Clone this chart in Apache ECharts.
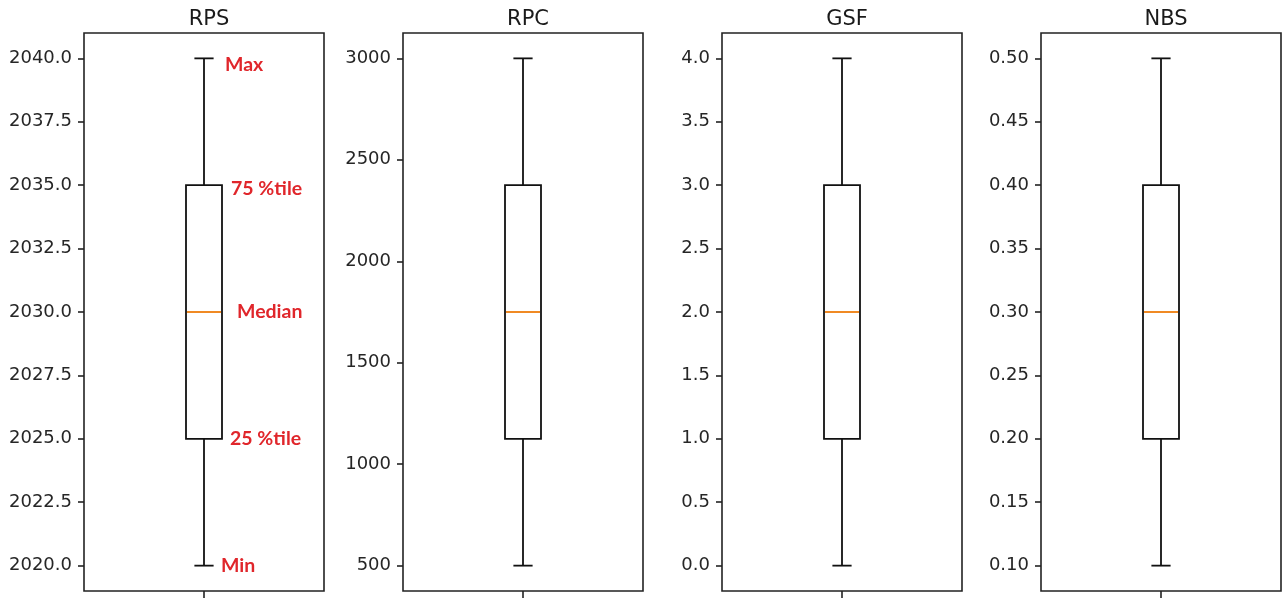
<!DOCTYPE html>
<html>
<head>
<meta charset="utf-8">
<script src="https://cdn.jsdelivr.net/npm/echarts@6/dist/echarts.min.js"></script>
<style>
html,body{margin:0;padding:0;background:#fff;}
#chart{width:1283px;height:598px;}
</style>
</head>
<body>
<div id="chart"></div>
<script>
// ---- data ----
const panelTitles = ['RPS', 'RPC', 'GSF', 'NBS'];
const minVals = [2020, 500, 0, 0.1];
const q1Vals = [2025, 1125, 1, 0.2];
const medianVals = [2030, 1750, 2, 0.3];
const q3Vals = [2035, 2375, 3, 0.4];
const maxVals = [2040, 3000, 4, 0.5];
const rpsTicks = [2020, 2022.5, 2025, 2027.5, 2030, 2032.5, 2035, 2037.5, 2040];
const rpcTicks = [500, 1000, 1500, 2000, 2500, 3000];
const gsfTicks = [0, 0.5, 1, 1.5, 2, 2.5, 3, 3.5, 4];
const nbsTicks = [0.1, 0.15, 0.2, 0.25, 0.3, 0.35, 0.4, 0.45, 0.5];
const tickDecimals = [1, 0, 1, 2];
const annotationLabels = ['Max', '75 %tile', 'Median', '25 %tile', 'Min'];

const tickSets = [rpsTicks, rpcTicks, gsfTicks, nbsTicks];
const gridLefts = [84, 403, 722, 1041];
const gridW = 240;
const gridTop = 33, gridH = 558;

const chart = echarts.init(document.getElementById('chart'), null, {renderer: 'canvas'});

const grids = [], xAxes = [], yAxes = [], series = [], titles = [];
panelTitles.forEach((t, i) => {
  const lo = minVals[i], hi = maxVals[i];
  const pad = (hi - lo) * 0.05;
  grids.push({left: gridLefts[i], top: gridTop, width: gridW, height: gridH,
    show: true, borderColor: '#222', borderWidth: 1.6, backgroundColor: 'transparent'});
  xAxes.push({type: 'category', gridIndex: i, data: ['1'], position: 'bottom',
    axisLine: {show: false, onZero: false}, axisLabel: {show: false},
    axisTick: {show: true, alignWithLabel: true, length: 7, lineStyle: {color: '#222', width: 1.6}},
    splitLine: {show: false}});
  const dec = tickDecimals[i];
  yAxes.push({type: 'value', gridIndex: i, min: lo - pad, max: hi + pad,
    axisLine: {show: false, onZero: false},
    axisTick: {show: true, length: 6, customValues: tickSets[i], lineStyle: {color: '#222', width: 1.6}},
    axisLabel: {show: true, customValues: tickSets[i], margin: 12,
      formatter: v => Number(v).toFixed(dec),
      fontFamily: 'DejaVu Sans', fontSize: 18, color: '#262626'},
    splitLine: {show: false}});
  titles.push({text: t, left: gridLefts[i] + gridW / 2, top: 4, textAlign: 'center',
    textStyle: {fontFamily: 'DejaVu Sans', fontSize: 21, fontWeight: 'normal', color: '#1a1a1a'}});
  series.push({
    type: 'custom', xAxisIndex: i, yAxisIndex: i, silent: true,
    data: [[0, minVals[i], q1Vals[i], medianVals[i], q3Vals[i], maxVals[i]]],
    encode: {x: 0, y: [1, 2, 3, 4, 5]},
    renderItem: (params, api) => {
      const cx = api.coord([0, api.value(3)])[0];
      const bandW = api.size([1, 0])[0];
      const bw = bandW * 0.15, cw = bandW * 0.08;
      const yMin = api.coord([0, api.value(1)])[1];
      const yQ1 = api.coord([0, api.value(2)])[1];
      const yMed = api.coord([0, api.value(3)])[1];
      const yQ3 = api.coord([0, api.value(4)])[1];
      const yMax = api.coord([0, api.value(5)])[1];
      const ls = {stroke: '#111', lineWidth: 1.8, fill: null};
      const children = [
        {type: 'line', shape: {x1: cx, y1: yQ3, x2: cx, y2: yMax}, style: ls},
        {type: 'line', shape: {x1: cx, y1: yQ1, x2: cx, y2: yMin}, style: ls},
        {type: 'line', shape: {x1: cx - cw / 2, y1: yMax, x2: cx + cw / 2, y2: yMax}, style: ls},
        {type: 'line', shape: {x1: cx - cw / 2, y1: yMin, x2: cx + cw / 2, y2: yMin}, style: ls},
        {type: 'rect', shape: {x: cx - bw / 2, y: yQ3, width: bw, height: yQ1 - yQ3}, style: {stroke: '#111', lineWidth: 1.8, fill: '#fff'}},
        {type: 'line', shape: {x1: cx - bw / 2 + 1, y1: yMed, x2: cx + bw / 2 - 1, y2: yMed}, style: {stroke: '#f08a24', lineWidth: 2.2}}
      ];
      if (i === 0) {
        const ann = [
          [annotationLabels[0], yMax + 6, 21],
          [annotationLabels[1], yQ3 + 4, 27],
          [annotationLabels[2], yMed, 33],
          [annotationLabels[3], yQ1, 26],
          [annotationLabels[4], yMin, 17]
        ];
        ann.forEach(a => children.push({type: 'text', x: cx + a[2], y: a[1],
          style: {text: a[0], fill: '#e0262b', font: 'bold 19.5px Lato', textVerticalAlign: 'middle', textAlign: 'left'}}));
      }
      return {type: 'group', children};
    }
  });
});

chart.setOption({
  animation: false,
  backgroundColor: '#fff',
  title: titles,
  grid: grids,
  xAxis: xAxes,
  yAxis: yAxes,
  series: series
});
</script>
</body>
</html>
